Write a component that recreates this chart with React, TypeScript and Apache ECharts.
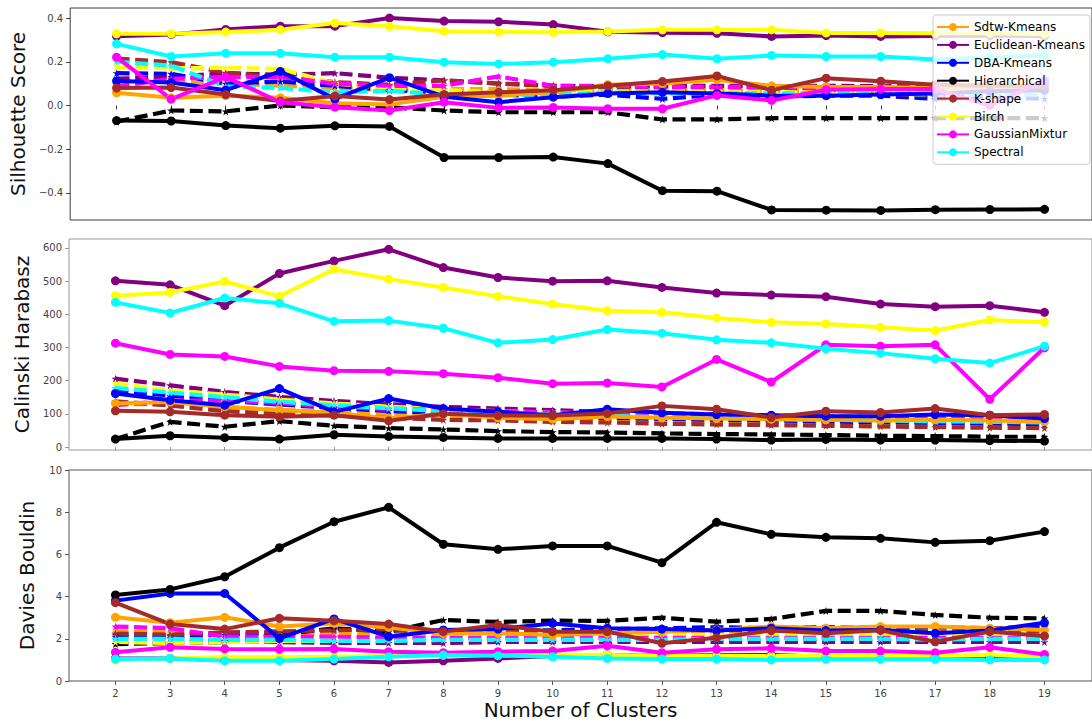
import React, { useEffect, useRef } from "react";
import * as echarts from "echarts";

const CATS = [2, 3, 4, 5, 6, 7, 8, 9, 10, 11, 12, 13, 14, 15, 16, 17, 18, 19];

const METHODS = ["Sdtw-Kmeans", "Euclidean-Kmeans", "DBA-Kmeans", "Hierarchical", "K-shape", "Birch", "GaussianMixtur", "Spectral"];
const COLORS = ["#FFA500", "#800080", "#0000FF", "#000000", "#A52A2A", "#FFFF00", "#FF00FF", "#00FFFF"];

// ---- Silhouette Score ----
const silSdtw = [0.058, 0.035, 0.045, 0.035, 0.01, 0.005, 0.04, 0.045, 0.06, 0.095, 0.1, 0.118, 0.09, 0.085, 0.085, 0.08, 0.08, 0.08];
const silEuclid = [0.317, 0.325, 0.348, 0.363, 0.363, 0.4, 0.386, 0.383, 0.37, 0.337, 0.333, 0.33, 0.316, 0.32, 0.316, 0.318, 0.32, 0.318];
const silDba = [0.112, 0.105, 0.07, 0.156, 0.03, 0.127, 0.04, 0.015, 0.038, 0.055, 0.06, 0.055, 0.045, 0.045, 0.05, 0.055, 0.065, 0.07];
const silHier = [-0.069, -0.071, -0.092, -0.104, -0.093, -0.096, -0.238, -0.238, -0.236, -0.266, -0.39, -0.392, -0.478, -0.479, -0.48, -0.477, -0.476, -0.475];
const silKshape = [0.08, 0.082, 0.05, 0.02, 0.043, 0.027, 0.05, 0.06, 0.07, 0.09, 0.11, 0.135, 0.07, 0.125, 0.111, 0.095, 0.09, 0.09];
const silBirch = [0.328, 0.328, 0.336, 0.346, 0.377, 0.362, 0.34, 0.336, 0.335, 0.339, 0.346, 0.346, 0.346, 0.332, 0.332, 0.33, 0.33, 0.327];
const silGmm = [0.221, 0.029, 0.13, 0.015, -0.008, -0.023, 0.015, -0.011, -0.009, -0.015, -0.015, 0.046, 0.023, 0.072, 0.075, 0.075, 0.0, 0.114];
const silSpectral = [0.282, 0.224, 0.239, 0.239, 0.221, 0.221, 0.198, 0.19, 0.198, 0.214, 0.233, 0.214, 0.229, 0.224, 0.224, 0.21, 0.22, 0.229];

const silSdtwD = [0.11, 0.11, 0.1, 0.09, 0.08, 0.07, 0.075, 0.075, 0.07, 0.07, 0.07, 0.07, 0.065, 0.07, 0.065, 0.06, 0.065, 0.065];
const silEuclidD = [0.123, 0.13, 0.148, 0.14, 0.148, 0.127, 0.115, 0.1, 0.09, 0.088, 0.09, 0.09, 0.088, 0.09, 0.088, 0.09, 0.09, 0.09];
const silDbaD = [0.148, 0.145, 0.1, 0.11, 0.09, 0.07, 0.06, 0.05, 0.04, 0.05, 0.03, 0.05, 0.04, 0.045, 0.045, 0.03, 0.04, 0.03];
const silHierD = [-0.074, -0.023, -0.027, 0.0, -0.008, -0.008, -0.023, -0.031, -0.031, -0.031, -0.064, -0.064, -0.058, -0.058, -0.058, -0.058, -0.058, -0.058];
const silKshapeD = [0.215, 0.198, 0.15, 0.13, 0.107, 0.095, 0.115, 0.1, 0.09, 0.08, 0.075, 0.08, 0.085, 0.07, 0.055, 0.045, 0.05, 0.06];
const silBirchD = [0.175, 0.17, 0.172, 0.168, 0.1, 0.08, 0.07, 0.06, 0.06, 0.065, 0.065, 0.065, 0.06, 0.06, 0.06, 0.06, 0.06, 0.06];
const silGmmD = [0.087, 0.122, 0.13, 0.13, 0.1, 0.09, 0.09, 0.133, 0.09, 0.09, 0.085, 0.085, 0.085, 0.08, 0.08, 0.08, 0.09, 0.09];
const silSpectralD = [0.2, 0.182, 0.087, 0.08, 0.06, 0.067, 0.05, 0.047, 0.05, 0.06, 0.055, 0.055, 0.055, 0.055, 0.055, 0.05, 0.05, 0.05];

// ---- Calinski Harabasz ----
const chSdtw = [131, 136, 121, 111, 103, 86, 100, 88, 84, 92, 88, 86, 84, 82, 80, 82, 80, 77];
const chEuclid = [501, 489, 426, 523, 561, 596, 541, 511, 500, 501, 481, 464, 458, 453, 431, 423, 426, 406];
const chDba = [161, 141, 126, 176, 106, 146, 116, 106, 96, 114, 103, 98, 96, 93, 93, 98, 96, 86];
const chHier = [24, 34, 28, 24, 37, 32, 29, 26, 26, 26, 26, 24, 21, 23, 21, 21, 19, 18];
const chKshape = [109, 106, 96, 91, 96, 79, 100, 95, 95, 101, 124, 114, 89, 108, 104, 116, 96, 98];
const chBirch = [456, 466, 499, 454, 536, 506, 481, 454, 431, 411, 406, 389, 376, 371, 361, 351, 383, 376];
const chGmm = [313, 279, 273, 243, 230, 228, 221, 209, 191, 193, 181, 264, 196, 308, 304, 308, 144, 299];
const chSpectral = [436, 404, 449, 433, 379, 381, 358, 314, 324, 354, 343, 323, 314, 296, 283, 266, 253, 304];

const chSdtwD = [130, 128, 120, 112, 106, 100, 95, 90, 86, 82, 80, 78, 75, 73, 71, 69, 68, 66];
const chEuclidD = [206, 186, 166, 151, 139, 129, 121, 116, 111, 106, 102, 98, 95, 92, 90, 88, 86, 84];
const chDbaD = [170, 155, 140, 128, 118, 109, 102, 96, 92, 88, 85, 82, 80, 77, 75, 73, 71, 69];
const chHierD = [24, 76, 61, 78, 64, 57, 53, 48, 45, 44, 41, 39, 38, 36, 34, 33, 31, 31];
const chKshapeD = [138, 125, 108, 100, 95, 88, 82, 80, 76, 74, 70, 68, 66, 64, 62, 60, 58, 57];
const chBirchD = [192, 170, 158, 143, 131, 122, 113, 108, 104, 99, 96, 93, 90, 88, 86, 84, 82, 80];
const chGmmD = [126, 140, 140, 133, 121, 115, 112, 108, 104, 101, 97, 95, 92, 90, 88, 86, 84, 83];
const chSpectralD = [178, 164, 150, 137, 126, 117, 108, 102, 98, 94, 90, 87, 85, 82, 80, 78, 76, 74];

// ---- Davies Bouldin ----
const dbSdtw = [3.02, 2.76, 3.02, 2.58, 2.73, 2.54, 2.26, 2.26, 2.18, 2.26, 2.34, 2.42, 2.58, 2.5, 2.58, 2.58, 2.5, 2.42];
const dbEuclid = [1.07, 1.07, 1.0, 1.0, 0.96, 0.88, 0.96, 1.07, 1.18, 1.23, 1.2, 1.23, 1.23, 1.15, 1.15, 1.12, 1.12, 1.12];
const dbDba = [3.81, 4.15, 4.15, 2.02, 2.94, 2.1, 2.42, 2.46, 2.73, 2.5, 2.46, 2.39, 2.5, 2.39, 2.42, 2.26, 2.39, 2.76];
const dbHier = [4.08, 4.34, 4.94, 6.32, 7.55, 8.23, 6.48, 6.24, 6.4, 6.4, 5.61, 7.52, 6.95, 6.81, 6.76, 6.57, 6.65, 7.08];
const dbKshape = [3.71, 2.7, 2.46, 2.97, 2.86, 2.7, 2.34, 2.65, 2.34, 2.34, 1.79, 2.05, 2.39, 2.26, 2.4, 1.86, 2.34, 2.13];
const dbBirch = [1.0, 1.07, 1.12, 1.12, 1.15, 1.18, 1.23, 1.26, 1.26, 1.23, 1.2, 1.2, 1.18, 1.18, 1.18, 1.18, 1.23, 1.15];
const dbGmm = [1.36, 1.6, 1.52, 1.5, 1.52, 1.39, 1.34, 1.39, 1.42, 1.67, 1.34, 1.5, 1.55, 1.42, 1.42, 1.34, 1.6, 1.26];
const dbSpectral = [1.04, 1.07, 0.96, 0.96, 1.04, 1.15, 1.23, 1.2, 1.15, 1.07, 1.04, 1.04, 1.0, 1.03, 1.03, 1.03, 1.0, 1.0];

const dbSdtwD = [2.35, 2.3, 2.2, 2.2, 2.25, 2.25, 2.2, 2.3, 2.35, 2.4, 2.45, 2.4, 2.55, 2.5, 2.55, 2.5, 2.5, 2.6];
const dbEuclidD = [2.1, 2.05, 1.9, 1.85, 1.8, 1.8, 1.8, 1.85, 1.85, 1.85, 1.85, 1.85, 1.85, 1.85, 1.85, 1.85, 1.85, 1.85];
const dbDbaD = [2.2, 2.15, 2.2, 2.3, 2.45, 2.4, 2.4, 2.4, 2.4, 2.45, 2.5, 2.55, 2.5, 2.55, 2.5, 2.55, 2.5, 2.55];
const dbHierD = [1.75, 1.8, 1.85, 2.2, 2.5, 2.34, 2.89, 2.8, 2.86, 2.85, 3.0, 2.81, 2.94, 3.32, 3.32, 3.13, 3.0, 2.97];
const dbKshapeD = [2.25, 2.2, 2.3, 2.35, 2.4, 2.45, 2.3, 2.35, 2.3, 2.3, 2.35, 2.3, 2.4, 2.35, 2.4, 2.3, 2.3, 2.3];
const dbBirchD = [1.85, 1.8, 1.85, 1.9, 1.9, 2.0, 2.1, 2.15, 2.2, 2.25, 2.2, 2.2, 2.2, 2.2, 2.2, 2.15, 2.15, 2.15];
const dbGmmD = [2.58, 2.5, 2.1, 2.1, 2.1, 2.05, 2.05, 2.05, 2.05, 2.05, 2.05, 2.05, 2.05, 2.05, 2.05, 2.05, 2.05, 2.05];
const dbSpectralD = [2.0, 2.0, 1.95, 1.95, 1.9, 1.9, 1.95, 1.95, 1.95, 1.95, 1.95, 2.0, 2.0, 2.0, 2.0, 1.95, 2.0, 2.0];

const PANELS = [
  {
    title: "Silhouette Score",
    solid: [silSdtw, silEuclid, silDba, silHier, silKshape, silBirch, silGmm, silSpectral],
    dashed: [silSdtwD, silEuclidD, silDbaD, silHierD, silKshapeD, silBirchD, silGmmD, silSpectralD],
  },
  {
    title: "Calinski Harabasz",
    solid: [chSdtw, chEuclid, chDba, chHier, chKshape, chBirch, chGmm, chSpectral],
    dashed: [chSdtwD, chEuclidD, chDbaD, chHierD, chKshapeD, chBirchD, chGmmD, chSpectralD],
  },
  {
    title: "Davies Bouldin",
    solid: [dbSdtw, dbEuclid, dbDba, dbHier, dbKshape, dbBirch, dbGmm, dbSpectral],
    dashed: [dbSdtwD, dbEuclidD, dbDbaD, dbHierD, dbKshapeD, dbBirchD, dbGmmD, dbSpectralD],
  },
];

const Y_TICKS = [
  [-0.4, -0.2, 0, 0.2, 0.4],
  [0, 100, 200, 300, 400, 500, 600],
  [0, 2, 4, 6, 8, 10],
];

const STAR =
  "path://M50 0 L61.2 34.5 L97.6 34.5 L68.2 55.9 L79.4 90.5 L50 69.1 L20.6 90.5 L31.8 55.9 L2.4 34.5 L38.8 34.5 Z";

const FONT = "DejaVu Sans";

export default function App() {
  const ref = useRef<HTMLDivElement>(null);

  useEffect(() => {
    if (!ref.current) return;
    const chart = echarts.init(ref.current, null, { renderer: "svg" });

    const grids = [
      { left: 69, right: -1, top: 8, height: 212 },
      { left: 69, right: -1, top: 239, height: 211 },
      { left: 69, right: -1, top: 470, height: 211 },
    ];
    const yRanges = [
      [-0.524, 0.446],
      [-9, 627],
      [0, 10],
    ];
    const frameColors = ["#3a3a3a", "#999999", "#555555"];

    const series: any[] = [];
    PANELS.forEach((p, pi) => {
      p.dashed.forEach((vals, mi) => {
        series.push({
          type: "line",
          name: METHODS[mi] + " (dashed)",
          xAxisIndex: pi,
          yAxisIndex: pi,
          data: CATS.map((c, i) => [c, vals[i]]),
          symbol: STAR,
          symbolSize: 8,
          lineStyle: { color: COLORS[mi], width: 4.2, type: [13, 5.6] },
          itemStyle: { color: COLORS[mi] },
          z: 2,
          silent: true,
          emphasis: { disabled: true },
        });
      });
      p.solid.forEach((vals, mi) => {
        series.push({
          type: "line",
          name: METHODS[mi],
          xAxisIndex: pi,
          yAxisIndex: pi,
          data: CATS.map((c, i) => [c, vals[i]]),
          symbol: "circle",
          symbolSize: 9,
          lineStyle: { color: COLORS[mi], width: 4 },
          itemStyle: { color: COLORS[mi] },
          z: 3,
          silent: true,
          emphasis: { disabled: true },
        });
      });
    });

    chart.setOption({
      animation: false,
      backgroundColor: "#ffffff",
      grid: grids.map((g, i) => ({ ...g, show: true, borderColor: frameColors[i], borderWidth: 1, backgroundColor: "transparent" })),
      xAxis: grids.map((_, i) => ({
        type: "value",
        gridIndex: i,
        min: 1.15,
        max: 19.87,
        axisLine: { show: false },
        splitLine: { show: false },
        axisTick: { show: true, length: 4, customValues: CATS, lineStyle: { color: frameColors[i] } },
        axisLabel: {
          show: i === 2,
          customValues: CATS,
          margin: 7,
          fontSize: 10,
          color: "#444",
          fontFamily: FONT,
        },
        name: i === 2 ? "Number of Clusters" : "",
        nameLocation: "middle",
        nameGap: 19,
        nameTextStyle: { fontSize: 20, fontFamily: FONT, color: "#111" },
      })),
      yAxis: grids.map((_, i) => ({
        type: "value",
        gridIndex: i,
        min: yRanges[i][0],
        max: yRanges[i][1],
        axisLine: { show: false },
        splitLine: { show: false },
        axisTick: { show: true, length: 4, customValues: Y_TICKS[i], lineStyle: { color: frameColors[i] } },
        axisLabel: {
          customValues: Y_TICKS[i],
          margin: 7,
          fontSize: 10,
          color: "#444",
          fontFamily: FONT,
          formatter: (v: number) => (i === 0 ? v.toFixed(1) : String(Math.round(v))).replace("-", "\u2212"),
        },
        name: PANELS[i].title,
        nameLocation: "middle",
        nameGap: 32,
        nameRotate: 90,
        nameTextStyle: { fontSize: 20, fontFamily: FONT, color: "#111" },
      })),
      legend: {
        data: METHODS,
        orient: "vertical",
        left: 933,
        top: 15,
        padding: [5, 5, 5, 3],
        itemWidth: 32,
        itemHeight: 10,
        itemGap: 3.9,
        backgroundColor: "rgba(255,255,255,0.8)",
        borderColor: "#cccccc",
        borderWidth: 1,
        borderRadius: 3,
        selectedMode: false,
        textStyle: { fontSize: 12, fontFamily: FONT, color: "#000", lineHeight: 14 },
      },
      series,
    });

    return () => chart.dispose();
  }, []);

  return (
    <div
      ref={ref}
      style={{ position: "absolute", left: 0, top: 0, width: 1092, height: 725, background: "#fff" }}
    />
  );
}
